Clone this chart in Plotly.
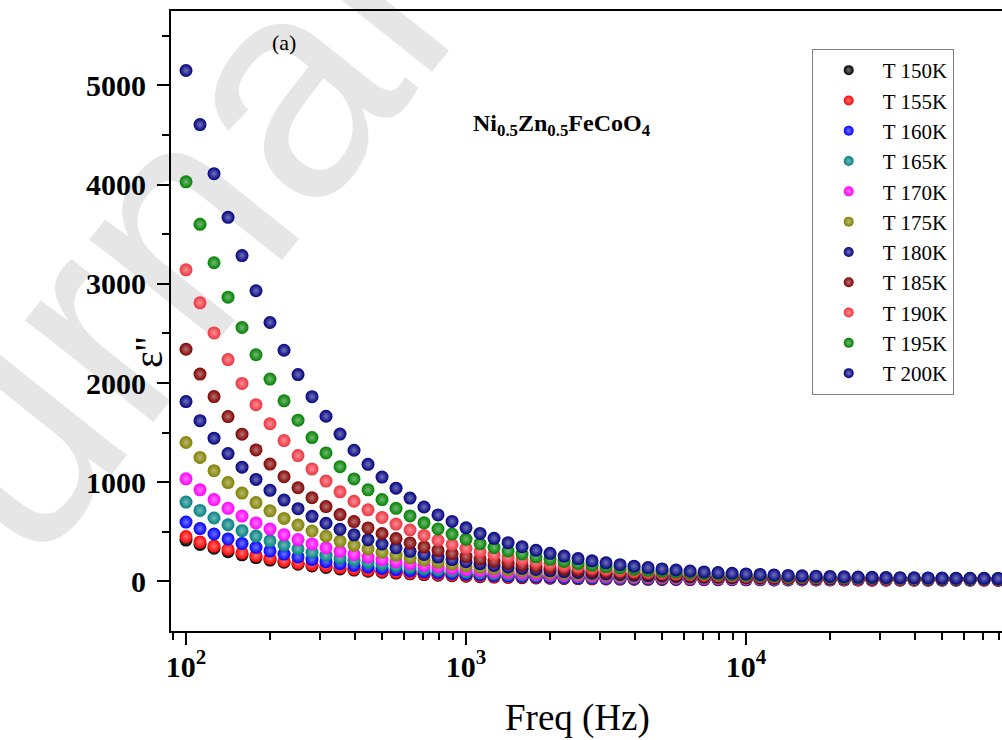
import plotly.graph_objects as go

# Measurement frequencies (Hz), 20 points per decade
freq_hz = [
    100, 112.2, 125.9, 141.3, 158.5, 177.8, 199.5, 223.9, 251.2, 281.8,
    316.2, 354.8, 398.1, 446.7, 501.2, 562.3, 631.0, 707.9, 794.3, 891.3,
    1000, 1122, 1259, 1413, 1585, 1778, 1995, 2239, 2512, 2818,
    3162, 3548, 3981, 4467, 5012, 5623, 6310, 7079, 7943, 8913,
    10000, 11220, 12590, 14130, 15850, 17780, 19950, 22390, 25120, 28180,
    31620, 35480, 39810, 44670, 50120, 56230, 63100, 70790, 79430, 89130, 100000,
]

# Dielectric loss eps'' at each temperature
eps_150 = [417, 373, 334, 299, 268, 240, 215, 193, 173, 156, 140, 126, 114, 103, 93, 84, 76, 69, 63, 57,
           53, 48, 44, 41, 38, 35, 32, 30, 28, 26, 25, 23, 22, 21, 20, 19, 18, 18, 17, 17,
           16, 16, 15, 15, 15, 14, 14, 14, 14, 13, 13, 13, 13, 13, 13, 13, 13, 13, 12, 12, 12]
eps_155 = [452, 398, 356, 324, 288, 259, 233, 207, 186, 170, 155, 139, 124, 112, 101, 92, 83, 76, 69, 63,
           58, 53, 49, 45, 42, 39, 36, 34, 31, 30, 28, 26, 25, 24, 23, 22, 21, 20, 20, 19,
           18, 18, 17, 17, 17, 16, 16, 16, 16, 15, 15, 15, 15, 15, 15, 15, 15, 15, 15, 14, 14]
eps_160 = [598, 533, 478, 428, 383, 343, 307, 275, 247, 222, 199, 179, 161, 146, 131, 119, 107, 97, 88, 80,
           73, 67, 61, 56, 52, 48, 44, 41, 38, 36, 33, 31, 30, 28, 27, 25, 24, 23, 22, 22,
           21, 20, 20, 19, 19, 18, 18, 18, 17, 17, 17, 17, 16, 16, 16, 16, 16, 16, 16, 16, 16]
eps_165 = [800, 715, 639, 571, 511, 457, 409, 366, 328, 294, 264, 237, 213, 192, 172, 155, 140, 127, 115, 104,
           94, 86, 78, 71, 65, 60, 55, 51, 47, 44, 41, 38, 36, 34, 32, 30, 28, 27, 26, 25,
           24, 23, 22, 21, 21, 20, 20, 19, 19, 19, 18, 18, 18, 18, 18, 17, 17, 17, 17, 17, 17]
eps_170 = [1034, 923, 825, 737, 659, 589, 527, 471, 422, 378, 339, 304, 272, 245, 220, 198, 178, 161, 145, 131,
           119, 108, 98, 89, 81, 74, 68, 62, 57, 53, 49, 46, 43, 40, 37, 35, 33, 31, 30, 28,
           27, 26, 25, 24, 23, 23, 22, 22, 21, 21, 20, 20, 20, 19, 19, 19, 19, 18, 18, 18, 18]
eps_175 = [1400, 1250, 1116, 996, 890, 795, 711, 635, 568, 508, 455, 407, 365, 327, 294, 264, 237, 213, 192, 173,
           156, 141, 128, 116, 105, 96, 87, 80, 73, 67, 62, 57, 53, 49, 46, 43, 40, 38, 35, 34,
           32, 30, 29, 28, 27, 26, 25, 24, 23, 23, 22, 22, 21, 21, 21, 20, 20, 20, 20, 19, 19]
eps_180 = [1813, 1620, 1444, 1289, 1151, 1028, 918, 820, 733, 656, 586, 525, 470, 421, 377, 338, 303, 272, 245, 220,
           198, 179, 161, 146, 132, 120, 109, 99, 90, 83, 76, 70, 64, 59, 55, 51, 47, 44, 42, 39,
           37, 35, 33, 32, 30, 29, 28, 27, 26, 25, 25, 24, 24, 23, 23, 22, 22, 22, 21, 21, 21]
eps_185 = [2340, 2090, 1863, 1662, 1484, 1325, 1183, 1056, 944, 843, 754, 674, 603, 539, 483, 432, 388, 348, 312, 280,
           252, 227, 204, 184, 166, 150, 136, 124, 112, 102, 93, 85, 78, 72, 66, 61, 57, 53, 49, 46,
           43, 41, 38, 36, 35, 33, 32, 30, 29, 28, 27, 26, 26, 25, 25, 24, 24, 23, 23, 23, 22]
eps_190 = [3141, 2808, 2505, 2236, 1996, 1781, 1590, 1420, 1268, 1132, 1011, 903, 808, 722, 645, 578, 518, 463, 415, 372,
           333, 299, 269, 242, 218, 196, 177, 160, 145, 132, 120, 109, 99, 91, 83, 76, 70, 65, 60, 56,
           52, 49, 46, 43, 41, 39, 37, 35, 33, 32, 31, 30, 29, 28, 27, 26, 26, 25, 25, 24, 24]
eps_195 = [4028, 3600, 3212, 2865, 2560, 2285, 2040, 1820, 1625, 1450, 1295, 1156, 1033, 923, 825, 737, 660, 590, 528, 478,
           426, 381, 342, 307, 276, 248, 223, 201, 181, 164, 149, 135, 123, 112, 102, 93, 85, 79, 72, 67,
           62, 58, 54, 50, 47, 45, 42, 40, 38, 36, 35, 33, 32, 31, 30, 29, 28, 28, 27, 26, 26]
eps_200 = [5150, 4605, 4110, 3670, 3285, 2930, 2610, 2330, 2085, 1862, 1665, 1485, 1322, 1180, 1052, 940, 840, 750, 670, 605,
           540, 484, 434, 390, 350, 314, 283, 255, 230, 207, 187, 169, 153, 139, 126, 115, 105, 96, 89, 82,
           75, 70, 65, 60, 56, 53, 50, 47, 44, 42, 40, 38, 37, 35, 34, 33, 32, 31, 30, 29, 29]

series_names = ["T 150K", "T 155K", "T 160K", "T 165K", "T 170K", "T 175K",
                "T 180K", "T 185K", "T 190K", "T 195K", "T 200K"]
series_values = [eps_150, eps_155, eps_160, eps_165, eps_170, eps_175,
                 eps_180, eps_185, eps_190, eps_195, eps_200]
series_colors = ["#000000", "#FF0000", "#0000FF", "#008080", "#FF00FF", "#808000",
                 "#000080", "#800000", "#EE3340", "#008000", "#000080"]

x_major = [100, 1000, 10000]
x_major_text = ["<b>10<sup>2</sup></b>", "<b>10<sup>3</sup></b>", "<b>10<sup>4</sup></b>"]
x_minor = [90, 200, 300, 400, 500, 600, 700, 800, 900,
           2000, 3000, 4000, 5000, 6000, 7000, 8000, 9000,
           20000, 30000, 40000, 50000, 60000, 70000, 80000, 90000]
y_major = [0, 1000, 2000, 3000, 4000, 5000]
y_minor = [500, 1500, 2500, 3500, 4500, 5500]

SERIF = "Liberation Serif"


def tint(hex_color, amount):
    h = hex_color.lstrip("#")
    r, g, b = (int(h[i:i + 2], 16) for i in (0, 2, 4))
    r = round(r + (255 - r) * amount)
    g = round(g + (255 - g) * amount)
    b = round(b + (255 - b) * amount)
    return f"rgb({r},{g},{b})"


fig = go.Figure()

for name, vals, col in zip(series_names, series_values, series_colors):
    fig.add_trace(go.Scatter(
        x=freq_hz, y=vals, mode="markers", name=name, showlegend=False,
        marker=dict(size=13, color=col, line=dict(width=0),
                    gradient=dict(type="radial", color=tint(col, 0.45))),
    ))

# legend entries with smaller ball symbols
for name, col in zip(series_names, series_colors):
    fig.add_trace(go.Scatter(
        x=[None], y=[None], mode="markers", name=name, showlegend=True,
        marker=dict(size=10, color=col, line=dict(width=0),
                    gradient=dict(type="radial", color=tint(col, 0.45))),
    ))

# diagonal watermark behind the plot
fig.add_shape(
    type="line", xref="paper", yref="paper", layer="below",
    x0=0.402, y0=0.9445, x1=0.642, y1=1.3495,
    line=dict(color="rgba(0,0,0,0)", width=0),
    label=dict(text="Journal Pre-proof", textangle=-51.5, textposition="middle",
               font=dict(family="Liberation Sans", size=310, color="#E6E6E6")),
)

fig.add_annotation(
    text="(a)", xref="paper", yref="paper", x=0.136, y=0.95,
    xanchor="center", yanchor="middle",
    showarrow=False, font=dict(family=SERIF, size=22, color="black"),
)
fig.add_annotation(
    text="<b>Ni<sub>0.5</sub>Zn<sub>0.5</sub>FeCoO<sub>4</sub></b>",
    xref="paper", yref="paper", x=0.4705, y=0.816,
    xanchor="center", yanchor="middle",
    showarrow=False, font=dict(family=SERIF, size=24, color="black"),
)
fig.add_annotation(
    text="Freq (Hz)", xref="paper", yref="paper", x=0.4886, y=-0.1403,
    xanchor="center", yanchor="middle",
    showarrow=False, font=dict(family=SERIF, size=37, color="black"),
)
fig.add_annotation(
    text="ε''", xref="paper", yref="paper", x=-0.0277, y=0.45, textangle=-90,
    xanchor="center", yanchor="middle",
    showarrow=False, font=dict(family=SERIF, size=40, color="black"),
)

fig.update_layout(
    width=1002, height=740,
    margin=dict(l=171, r=0, t=11, b=109),
    paper_bgcolor="white", plot_bgcolor="rgba(0,0,0,0)",
    font=dict(family=SERIF, color="black"),
    legend=dict(
        x=0.771, y=0.9387, xanchor="left", yanchor="top",
        bgcolor="white", bordercolor="#808080", borderwidth=1,
        font=dict(family=SERIF, size=21, color="black"),
        itemwidth=58, indentation=2,
    ),
)

fig.update_xaxes(
    type="log", range=[1.9464, 4.914],
    showline=True, linecolor="black", linewidth=2, mirror=True,
    showgrid=False, zeroline=False,
    ticks="outside", ticklen=12, tickwidth=2, tickcolor="black",
    tickmode="array", tickvals=x_major, ticktext=x_major_text,
    tickfont=dict(family=SERIF, size=30, color="black"),
    ticklabelstandoff=-4,
    minor=dict(tickmode="array", tickvals=x_minor, ticks="outside",
               ticklen=7, tickwidth=2, tickcolor="black", showgrid=False),
)
fig.update_yaxes(
    range=[-500, 5750],
    showline=True, linecolor="black", linewidth=2, mirror=False,
    showgrid=False, zeroline=False,
    ticks="outside", ticklen=12, tickwidth=2, tickcolor="black",
    tickmode="array", tickvals=y_major,
    tickfont=dict(family=SERIF, size=30, color="black", weight="bold"),
    ticklabelstandoff=5,
    minor=dict(tickmode="array", tickvals=y_minor, ticks="outside",
               ticklen=7, tickwidth=2, tickcolor="black", showgrid=False),
)

fig.write_html("out.html")
